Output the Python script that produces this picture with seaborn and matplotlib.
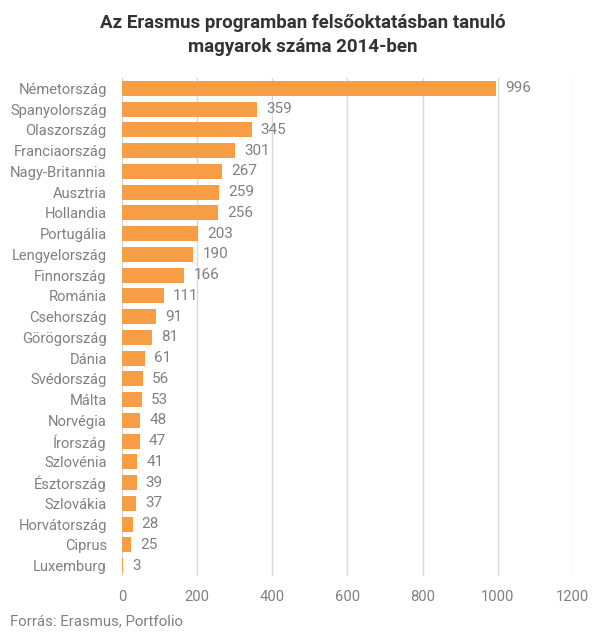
import matplotlib
matplotlib.use('Agg')
import matplotlib.pyplot as plt
import seaborn as sns
import pandas as pd

countries = ['Németország', 'Spanyolország', 'Olaszország', 'Franciaország', 'Nagy-Britannia',
             'Ausztria', 'Hollandia', 'Portugália', 'Lengyelország', 'Finnország', 'Románia',
             'Csehország', 'Görögország', 'Dánia', 'Svédország', 'Málta', 'Norvégia', 'Írország',
             'Szlovénia', 'Észtország', 'Szlovákia', 'Horvátország', 'Ciprus', 'Luxemburg']
students = [996, 359, 345, 301, 267, 259, 256, 203, 190, 166, 111, 91, 81, 61, 56, 53, 48, 47,
            41, 39, 37, 28, 25, 3]
x_ticks = [0, 200, 400, 600, 800, 1000, 1200]

df = pd.DataFrame({'orszag': countries, 'letszam': students})

sns.set_theme(style='white')
plt.rcParams['font.family'] = ['Roboto', 'DejaVu Sans']

fig = plt.figure(figsize=(6.05, 6.37), dpi=100)
ax = fig.add_axes([0.2017, 0.0958, 0.7453, 0.7818])
ax.set_axisbelow(True)

sns.barplot(data=df, x='letszam', y='orszag', color='#F79D45', saturation=1,
            width=0.72, linewidth=0, ax=ax)

for i, v in enumerate(students):
    ax.text(v + 24, i, str(v), va='center', ha='left', fontsize=11, color='#808080')

ax.set_xlim(0, 1200)
ax.set_ylim(23.5, -0.5)
ax.set_xticks(x_ticks)
ax.set_xticklabels([str(t) for t in x_ticks])
ax.xaxis.grid(True, color='#d9d9d9', linewidth=1)
ax.yaxis.grid(False)
for s in ax.spines.values():
    s.set_visible(False)
ax.tick_params(axis='both', length=0, labelsize=10.6, colors='#808080')
ax.tick_params(axis='x', pad=10)
ax.tick_params(axis='y', pad=11)
ax.set_xlabel('')
ax.set_ylabel('')

fig.suptitle('Az Erasmus programban felsőoktatásban tanuló\nmagyarok száma 2014-ben',
             x=0.5, y=0.978, fontsize=13.5, fontweight='bold', color='#333333',
             linespacing=1.45)
fig.text(0.017, 0.018, 'Forrás: Erasmus, Portfolio', fontsize=10.8, color='#808080')

fig.savefig('out.png', dpi=100)
